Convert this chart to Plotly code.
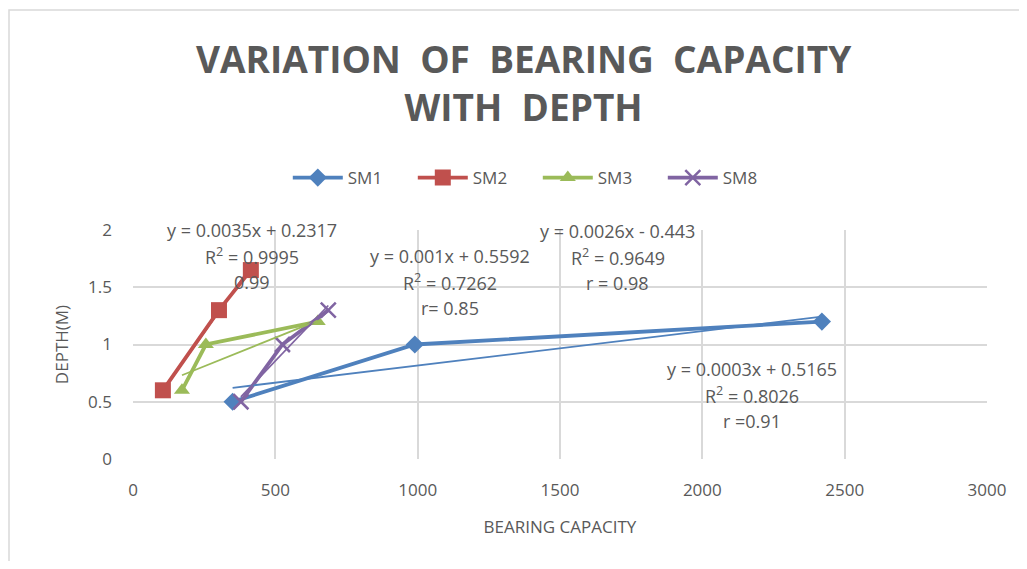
import plotly.graph_objects as go

# ---- data ----
series_names = ["SM1", "SM2", "SM3", "SM8"]
sm1_capacity = [350, 990, 2420]
sm1_depth = [0.5, 1.0, 1.2]
sm2_capacity = [105, 302, 414]
sm2_depth = [0.6, 1.3, 1.65]
sm3_capacity = [172, 256, 649]
sm3_depth = [0.6, 1.0, 1.2]
sm8_capacity = [379, 525, 686]
sm8_depth = [0.5, 1.0, 1.3]

# linear trendline coefficients (slope, intercept) as displayed
trend_slope = [0.0003, 0.0035, 0.001, 0.0026]
trend_intercept = [0.5165, 0.2317, 0.5592, -0.443]
trend_equations = ["y = 0.0003x + 0.5165", "y = 0.0035x + 0.2317",
                   "y = 0.001x + 0.5592", "y = 0.0026x - 0.443"]
trend_r2 = ["R<sup>2</sup> = 0.8026", "R<sup>2</sup> = 0.9995",
            "R<sup>2</sup> = 0.7262", "R<sup>2</sup> = 0.9649"]
trend_r = ["r =0.91", "0.99", "r= 0.85", "r = 0.98"]
# label anchor (data coords of first text line)
label_x = [2174, 418, 1113, 1703]
label_y = [0.786, 2.0, 1.773, 1.991]

x_ticks = [0, 500, 1000, 1500, 2000, 2500, 3000]
y_ticks = [0, 0.5, 1, 1.5, 2]
y_ticktext = ["0", "0.5", "1", "1.5", "2"]

colors = ["#4F81BD", "#C0504D", "#9BBB59", "#8064A2"]
symbols = ["diamond", "square", "triangle-up", "x-thin-open"]
msizes = [14, 16, 14, 15]

xs = [sm1_capacity, sm2_capacity, sm3_capacity, sm8_capacity]
ys = [sm1_depth, sm2_depth, sm3_depth, sm8_depth]

FONT = "Open Sans, sans-serif"
GRAY = "#595959"

# figure is placed inside the page body (8px margin)
W, H = 1011, 553
L, R, T, B = 125, 32, 222, 102
PW, PH = W - L - R, H - T - B

fig = go.Figure()
for i, name in enumerate(series_names):
    fig.add_trace(go.Scatter(
        x=xs[i], y=ys[i], name=name, mode="lines+markers",
        line=dict(color=colors[i], width=3.8),
        marker=dict(symbol=symbols[i], size=msizes[i], color=colors[i],
                    line=dict(color=colors[i], width=2.5 if i == 3 else 0)),
    ))
# trendlines
for i, name in enumerate(series_names):
    x0, x1 = min(xs[i]), max(xs[i])
    fig.add_trace(go.Scatter(
        x=[x0, x1],
        y=[trend_slope[i] * x0 + trend_intercept[i], trend_slope[i] * x1 + trend_intercept[i]],
        mode="lines", line=dict(color=colors[i], width=1.8),
        showlegend=False, hoverinfo="skip",
    ))

for i in range(4):
    for k, txt in enumerate([trend_equations[i], trend_r2[i], trend_r[i]]):
        fig.add_annotation(x=label_x[i], y=label_y[i], xref="x", yref="y",
                           yshift=-26 * k,
                           text=txt, showarrow=False,
                           font=dict(family=FONT, size=18, color=GRAY),
                           align="center", xanchor="center", yanchor="middle")

# outer chart border (top and left visible)
fig.add_shape(type="rect", xref="paper", yref="paper",
              x0=(1 - L) / PW, x1=1.2, y0=-1, y1=(PH + T - 2) / PH,
              line=dict(color="#D9D9D9", width=1.5), layer="below")

fig.update_layout(
    width=W, height=H,
    margin=dict(l=L, r=R, t=T, b=B),
    paper_bgcolor="white", plot_bgcolor="white",
    title=dict(text="VARIATION  OF  BEARING  CAPACITY<br>WITH  DEPTH",
               x=0.51, xanchor="center", y=1 - 65 / H, yanchor="middle",
               font=dict(family=FONT, size=37, color=GRAY, weight="bold")),
    legend=dict(orientation="h", x=0.474, xanchor="center", y=(PH + T - 170) / PH,
                yanchor="middle", font=dict(family=FONT, size=17, color=GRAY),
                itemwidth=50, entrywidth=60),
    font=dict(family=FONT, color=GRAY),
    showlegend=True,
)
fig.update_xaxes(range=[0, 3000], tickvals=x_ticks, showgrid=True, gridcolor="#D9D9D9",
                 gridwidth=1.5, zeroline=False, showline=False, ticks="",
                 ticklabelstandoff=19,
                 tickfont=dict(family=FONT, size=17, color=GRAY),
                 title=dict(text="BEARING CAPACITY", font=dict(family=FONT, size=17, color=GRAY),
                            standoff=21))
fig.update_yaxes(range=[0, 2], tickvals=y_ticks, ticktext=y_ticktext,
                 showgrid=True, gridcolor="#D9D9D9",
                 gridwidth=1.5, zeroline=False, showline=False, ticks="",
                 ticklabelstandoff=20,
                 tickfont=dict(family=FONT, size=17, color=GRAY),
                 title=dict(text="DEPTH(M)", font=dict(family=FONT, size=17, color=GRAY),
                            standoff=15))

fig.write_html("out.html")
